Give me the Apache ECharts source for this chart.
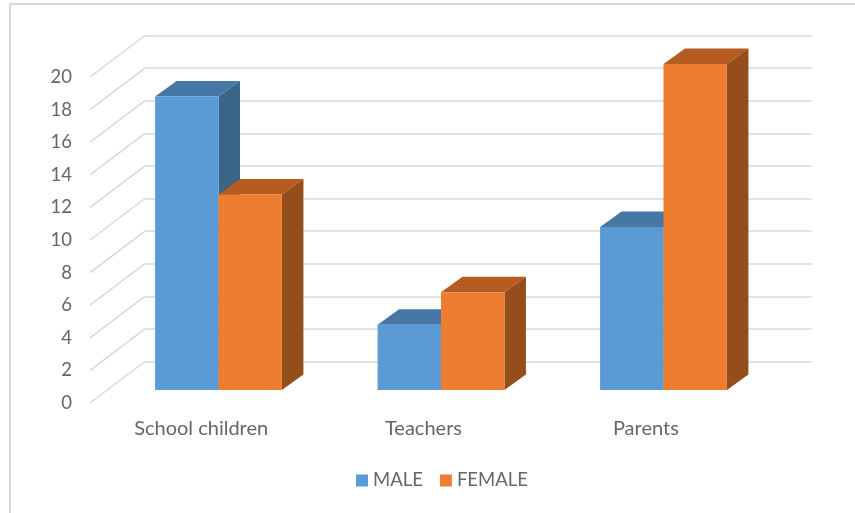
<!DOCTYPE html>
<html>
<head>
<meta charset="utf-8">
<style>html,body{margin:0;padding:0;background:#fff}#c{width:855px;height:513px}</style>
<script src="https://cdn.jsdelivr.net/npm/echarts@6/dist/echarts.min.js"></script>
</head>
<body>
<div id="c"></div>
<script>
const categories = ['School children', 'Teachers', 'Parents'];
const maleValues = [18, 4, 10];
const femaleValues = [12, 6, 20];
const tickValues = [0, 2, 4, 6, 8, 10, 12, 14, 16, 18, 20];

const FONT = 'Lato, "Open Sans", sans-serif';
const TEXT = '#666666';
const GRID = '#d9d9d9';
const DEPTH_X = 21.5, DEPTH_Y = 15.5;
const WALL_X = 55, WALL_Y = 41.5;

function barSeries(name, values, side, front, top, right) {
  return {
    name, type: 'custom', xAxisIndex: 2, yAxisIndex: 2, z: 5, clip: false,
    itemStyle: { color: front },
    encode: { x: 0, y: 1 },
    data: values.map((v, i) => [i, v]),
    renderItem(params, api) {
      const c = api.coord([api.value(0), api.value(1)]);
      const b = api.coord([api.value(0), 0]);
      const w = api.size([1, 0])[0] * 0.285;
      const x0 = side < 0 ? c[0] - w : c[0];
      const x1 = x0 + w;
      const yT = c[1], yB = b[1];
      const poly = (points, fill) => ({ type: 'polygon', shape: { points }, style: { fill, stroke: null } });
      return {
        type: 'group',
        children: [
          poly([[x0, yT], [x1, yT], [x1 + DEPTH_X, yT - DEPTH_Y], [x0 + DEPTH_X, yT - DEPTH_Y]], top),
          poly([[x1, yT], [x1 + DEPTH_X, yT - DEPTH_Y], [x1 + DEPTH_X, yB - DEPTH_Y], [x1, yB]], right),
          poly([[x0, yT], [x1, yT], [x1, yB], [x0, yB]], front)
        ]
      };
    }
  };
}

const hiddenCat = i => ({ type: 'category', gridIndex: i, data: categories, show: false });
const hiddenVal = (i, split) => ({
  type: 'value', gridIndex: i, min: 0, max: 20, interval: 2,
  axisLine: { show: false }, axisTick: { show: false }, axisLabel: { show: false },
  splitLine: { show: split, lineStyle: { color: GRID, width: 1.5 } }
});

const chart = echarts.init(document.getElementById('c'), null, { renderer: 'canvas' });
chart.setOption({
  animation: false,
  backgroundColor: '#fff',
  graphic: [
    { type: 'line', silent: true, shape: { x1: 10, y1: 4, x2: 855, y2: 4 }, style: { stroke: '#d9d9d9', lineWidth: 2 } },
    { type: 'line', silent: true, shape: { x1: 10, y1: 4, x2: 10, y2: 513 }, style: { stroke: '#d9d9d9', lineWidth: 2 } }
  ],
  legend: {
    data: ['MALE', 'FEMALE'],
    left: 351, top: 466, itemWidth: 12, itemHeight: 12, itemGap: 17, icon: 'rect',
    textStyle: { color: TEXT, fontFamily: FONT, fontSize: 18.5 }
  },
  grid: [
    { left: 90, top: 77, width: 667, height: 326 },
    { left: 145, top: 35.5, width: 667, height: 326 },
    { left: 107.25, top: 64, width: 667.5, height: 326 }
  ],
  xAxis: [
    {
      type: 'category', gridIndex: 0, data: categories,
      axisLine: { show: false }, axisTick: { show: false },
      axisLabel: { color: TEXT, fontFamily: FONT, fontSize: 20, margin: 16 }
    },
    hiddenCat(1),
    hiddenCat(2)
  ],
  yAxis: [
    {
      type: 'value', gridIndex: 0, min: 0, max: 20, interval: 2,
      axisLine: { show: false }, axisTick: { show: false }, splitLine: { show: false },
      axisLabel: { color: TEXT, fontFamily: FONT, fontSize: 18.5, margin: 18, padding: [5, 0, 0, 0] }
    },
    hiddenVal(1, true),
    hiddenVal(2, false)
  ],
  series: [
    {
      name: 'floor', type: 'custom', xAxisIndex: 0, yAxisIndex: 0, z: 1, silent: true, clip: false,
      encode: { y: 0 },
      data: tickValues.map(v => [v]),
      renderItem(params, api) {
        const x = params.coordSys.x;
        const y = api.coord([0, api.value(0)])[1];
        return {
          type: 'line',
          shape: { x1: x, y1: y, x2: x + WALL_X, y2: y - WALL_Y },
          style: { stroke: GRID, lineWidth: 1.5 }
        };
      }
    },
    barSeries('MALE', maleValues, -1, '#5B9BD5', '#4677A5', '#3A6488'),
    barSeries('FEMALE', femaleValues, 1, '#ED7D31', '#B65C20', '#954D1B')
  ]
});
</script>
</body>
</html>
